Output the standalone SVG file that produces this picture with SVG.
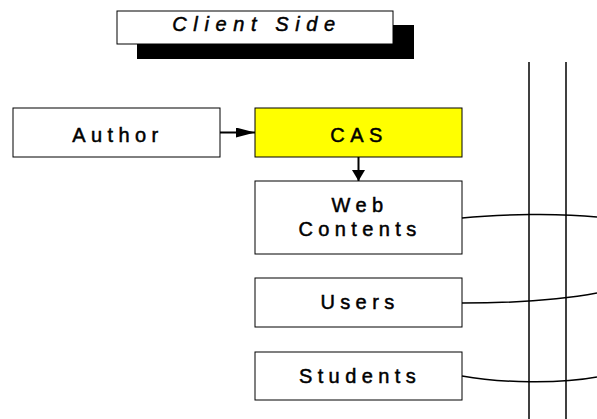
<svg xmlns="http://www.w3.org/2000/svg" width="597" height="419" viewBox="0 0 597 419">
<defs>
<marker id="arrA" markerWidth="19" markerHeight="10" refX="19" refY="5" orient="auto" markerUnits="userSpaceOnUse"><path d="M0,0 L19,5 L0,10 Z" fill="#000"/></marker>
<marker id="arrB" markerWidth="11" markerHeight="13" refX="11" refY="6.5" orient="auto" markerUnits="userSpaceOnUse"><path d="M0,0 L11,6.5 L0,13 Z" fill="#000"/></marker>
<style>
.box{fill:#fff;stroke:#000;stroke-width:1}
.t{font-family:"Liberation Sans",Arial,sans-serif;font-size:20px;letter-spacing:5.4px;text-anchor:middle;fill:#000;stroke:#000;stroke-width:0.5}
.ln{fill:none;stroke:#000;stroke-width:1.5}
</style>
</defs>
<rect width="597" height="419" fill="#fff"/>
<g id="title">
<rect x="137" y="25" width="277" height="34" fill="#000"/>
<rect x="117" y="11" width="276" height="33" class="box"/>
<text x="257" y="31" class="t" style="font-style:italic;letter-spacing:6.6px">Client Side</text>
</g>
<g id="lanes">
<line x1="529" y1="62" x2="529" y2="419" class="ln"/>
<line x1="566" y1="62" x2="566" y2="419" class="ln"/>
</g>
<g id="author">
<rect x="13" y="108" width="207" height="49" class="box"/>
<text x="118" y="142" class="t">Author</text>
</g>
<g id="cas">
<rect x="255" y="108" width="207" height="49" fill="#ffff00" stroke="#000"/>
<text x="359" y="142" class="t">CAS</text>
</g>
<g id="web">
<rect x="255" y="181" width="207" height="73" class="box"/>
<text x="360" y="212" class="t">Web</text>
<text x="360" y="236" class="t">Contents</text>
</g>
<g id="users">
<rect x="255" y="278" width="207" height="49" class="box"/>
<text x="360" y="309" class="t">Users</text>
</g>
<g id="students">
<rect x="255" y="352" width="207" height="48" class="box"/>
<text x="360" y="383" class="t">Students</text>
</g>
<g id="connectors">
<line x1="220" y1="132.5" x2="255" y2="132.5" stroke="#000" stroke-width="2" marker-end="url(#arrA)"/>
<line x1="358.5" y1="157" x2="358.5" y2="181" stroke="#000" stroke-width="2" marker-end="url(#arrB)"/>
<path d="M462,218 C500,214 560,213 597,217" class="ln"/>
<path d="M462,303 C520,303 560,300 597,293" class="ln"/>
<path d="M462,376 C500,383 560,384 597,377" class="ln"/>
</g>
</svg>
